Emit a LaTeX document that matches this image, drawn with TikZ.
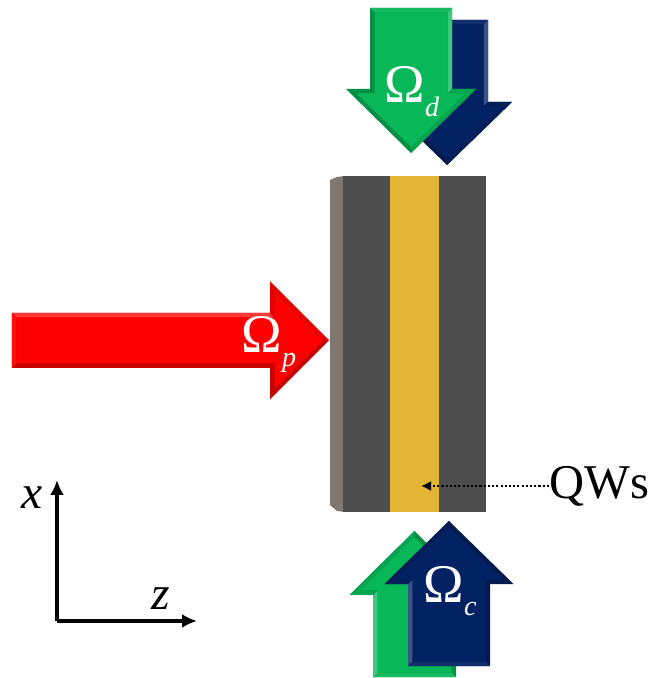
\documentclass[tikz,border=0pt]{standalone}
\usepackage{fontspec}
\setmainfont{Liberation Serif}
\usetikzlibrary{arrows.meta,calc}
\definecolor{beamgreen}{RGB}{8,184,88}
\definecolor{beamnavy}{RGB}{2,34,100}
\definecolor{beamred}{RGB}{255,0,0}
\definecolor{wellgold}{RGB}{227,181,52}
\definecolor{barriergray}{RGB}{77,77,77}
\definecolor{sidegray}{RGB}{127,119,112}

% tail, rotation, length, half shaft, half head, head length, colour
\newcommand{\beamarrow}[7]{
  \begin{scope}[shift={(#1)}, rotate=#2]
    \def\bv{0.045}
    \pgfmathsetmacro{\sx}{#3-#6}
    \fill[#7!78!black] (0,#4) -- (\sx,#4) -- (\sx,#5) -- (#3,0) -- (\sx,-#5) -- (\sx,-#4) -- (0,-#4) -- cycle;
    \fill[#7!78!white] (0,#4) -- (\sx,#4) -- (\sx+\bv,#4-\bv) -- (\bv,#4-\bv) -- cycle;
    \fill[#7!90!black] (\sx,#4) -- (\sx,#5) -- (#3,0) -- (#3-1.4*\bv,0) -- (\sx+\bv,#5-2.4*\bv) -- (\sx+\bv,#4-\bv) -- cycle;
    \fill[#7!94!white] (0,#4) -- (\bv,#4-\bv) -- (\bv,-#4+\bv) -- (0,-#4) -- cycle;
    \fill[#7] (\bv,#4-\bv) -- (\sx+\bv,#4-\bv) -- (\sx+\bv,#5-2.4*\bv) -- (#3-1.4*\bv,0) -- (\sx+\bv,-#5+2.4*\bv) -- (\sx+\bv,-#4+\bv) -- (\bv,-#4+\bv) -- cycle;
  \end{scope}
}
\newcommand{\rabi}[1]{Ω\raisebox{-3.98pt}{\fontsize{8}{8}\selectfont\itshape #1}}

\begin{document}
\begin{tikzpicture}[
    beamlabel/.style={anchor=base west, inner sep=0pt, text=white, font=\fontsize{15.5}{15.5}\selectfont},
    axislabel/.style={anchor=base west, inner sep=0pt, font=\fontsize{13.5}{13.5}\selectfont\itshape},
    axisline/.style={-{Latex[length=0.15cm, width=0.14cm]}, line width=1.4pt, black},
]
\useasboundingbox (0,0) rectangle (6.49,6.78);

% Layer stack
\fill[sidegray] (3.30,4.98) -- (3.37,5.01) -- (3.45,5.02) -- (3.45,1.66) -- (3.37,1.67) -- (3.30,1.73) -- cycle;
\fill[barriergray] (3.43,1.66) rectangle (3.90,5.02);
\fill[wellgold] (3.90,1.66) rectangle (4.39,5.02);
\fill[barriergray] (4.39,1.66) rectangle (4.86,5.02);

% Beams
\beamarrow{4.47,6.58}{-90}{1.45}{0.41}{0.65}{0.63}{beamnavy}
\beamarrow{4.11,6.70}{-90}{1.45}{0.41}{0.65}{0.64}{beamgreen}
\beamarrow{4.145,0.01}{90}{1.46}{0.415}{0.65}{0.64}{beamgreen}
\beamarrow{4.49,0.12}{90}{1.45}{0.41}{0.645}{0.63}{beamnavy}
\beamarrow{0.12,3.375}{0}{3.17}{0.275}{0.59}{0.59}{beamred}

% Beam labels
\node[beamlabel] (omegad) at (3.84,5.75) {\rabi{d}};
\node[beamlabel] (omegap) at (2.41,3.25) {\rabi{p}};
\node[beamlabel] (omegac) at (4.23,0.76) {\rabi{c}};

% Well label
\coordinate (well) at (4.21,1.92);
\node[anchor=base west, inner sep=0pt, font=\fontsize{13.8}{13.8}\selectfont] (qws) at (5.49,1.79) {QWs};
\draw[-{Latex[length=0.1cm, width=0.1cm]}, line width=0.6pt, dash pattern=on 0.6pt off 0.6pt] (qws.west |- well) -- (well);

% Axes
\coordinate (origin) at (0.57,0.57);
\coordinate (xtip) at (0.57,1.98);
\coordinate (ztip) at (1.97,0.57);
\draw[axisline] (origin) -- (xtip);
\draw[axisline] (origin) -- (ztip);
\node[axislabel] (xlabel) at (0.21,1.70) {x};
\node[axislabel] (zlabel) at (1.51,0.68) {z};

\end{tikzpicture}
\end{document}
